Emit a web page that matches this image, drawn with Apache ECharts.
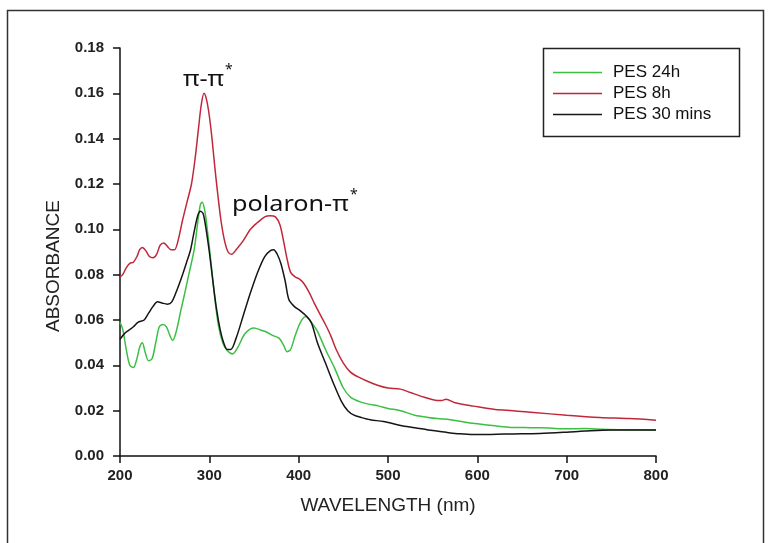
<!DOCTYPE html>
<html>
<head>
<meta charset="utf-8">
<script src="https://cdn.jsdelivr.net/npm/echarts@6/dist/echarts.min.js"></script>
<style>
html,body{margin:0;padding:0;background:#fff;}
#chart{width:777px;height:543px;}
</style>
</head>
<body>
<div id="chart"></div>
<script>
// ---- Data ----
const seriesNames = ['PES 24h', 'PES 8h', 'PES 30 mins'];
const xTicks = [200, 300, 400, 500, 600, 700, 800];
const yTicks = [0, 0.02, 0.04, 0.06, 0.08, 0.10, 0.12, 0.14, 0.16, 0.18];

const wl24 = [200,203,207,211,215,219,222,225,228,232,236,240,244,248,252,256,259,263,268,272,277,283,287,290,292,295,298,302,306,310,315,320,326,332,340,350,358,365,372,378,383,387,391,396,402,408,414,421,430,440,450,458,468,477,490,500,514,530,545,555,570,585,600,620,640,660,680,700,720,740,760,800];
const abs24 = [0.059,0.056,0.047,0.040,0.039,0.043,0.048,0.050,0.046,0.042,0.043,0.050,0.057,0.058,0.057,0.053,0.051,0.055,0.064,0.071,0.080,0.091,0.103,0.111,0.112,0.108,0.099,0.085,0.070,0.058,0.050,0.0465,0.045,0.048,0.054,0.0565,0.0555,0.0545,0.053,0.052,0.049,0.046,0.047,0.053,0.059,0.0615,0.059,0.055,0.047,0.039,0.030,0.026,0.024,0.023,0.022,0.021,0.020,0.018,0.017,0.0165,0.016,0.015,0.0142,0.0133,0.0126,0.0125,0.0123,0.012,0.0121,0.0118,0.0116,0.0115];

const wl8 = [200,203,207,211,215,219,222,225,229,233,237,241,245,249,253,257,261,265,270,275,280,284,288,291,294,297,300,303,306,309,313,317,321,325,330,338,346,354,362,368,374,379,383,387,391,396,401,406,412,418,424,430,436,442,450,458,466,477,490,500,514,525,540,555,560,565,575,596,620,640,663,700,737,770,800];
const abs8 = [0.079,0.080,0.083,0.085,0.0855,0.088,0.091,0.092,0.0905,0.088,0.0875,0.089,0.093,0.094,0.0925,0.091,0.091,0.095,0.104,0.112,0.120,0.131,0.145,0.155,0.160,0.157,0.150,0.140,0.128,0.117,0.104,0.095,0.090,0.089,0.091,0.095,0.100,0.103,0.1055,0.106,0.1055,0.102,0.095,0.087,0.081,0.079,0.078,0.076,0.072,0.067,0.0625,0.058,0.053,0.047,0.041,0.037,0.035,0.033,0.031,0.030,0.0295,0.028,0.026,0.0245,0.0245,0.025,0.0235,0.022,0.0205,0.020,0.0192,0.018,0.017,0.0165,0.0158];

const wl30 = [200,205,210,215,220,227,232,237,242,247,253,258,264,270,275,279,283,287,290,293,296,300,304,308,312,316,320,324,330,338,346,354,362,368,372,376,380,385,389,395,402,408,414,421,430,439,448,455,462,470,480,495,514,530,550,566,580,596,610,630,650,670,700,720,750,800];
const abs30 = [0.0515,0.054,0.0555,0.057,0.059,0.060,0.063,0.066,0.068,0.0675,0.067,0.068,0.0735,0.080,0.086,0.091,0.099,0.106,0.108,0.107,0.101,0.090,0.077,0.065,0.056,0.050,0.047,0.047,0.052,0.062,0.072,0.081,0.088,0.0905,0.091,0.089,0.085,0.077,0.069,0.066,0.064,0.062,0.059,0.050,0.041,0.032,0.024,0.020,0.018,0.017,0.016,0.0152,0.0135,0.0125,0.0112,0.0104,0.0098,0.0095,0.0095,0.0097,0.0098,0.0099,0.0105,0.011,0.0115,0.0115];

const colors = {green: '#3cbf45', red: '#c0283a', black: '#151515'};

function zip(xs, ys) { return xs.map((x, i) => [x, ys[i]]); }

const font = 'Arial, "Liberation Sans", sans-serif';
const chart = echarts.init(document.getElementById('chart'), null, {renderer: 'canvas'});

const option = {
  backgroundColor: '#ffffff',
  animation: false,
  grid: {left: 120, right: 121, top: 48, bottom: 87, containLabel: false},
  xAxis: {
    type: 'value', min: 200, max: 800, interval: 100,
    name: 'WAVELENGTH (nm)', nameLocation: 'middle', nameGap: 40,
    nameTextStyle: {fontFamily: font, fontSize: 19, color: '#222'},
    axisLine: {show: true, lineStyle: {color: '#111', width: 1.5}},
    axisTick: {show: true, inside: false, length: 7, lineStyle: {color: '#111', width: 1.5}},
    axisLabel: {margin: 12, fontFamily: font, fontSize: 15, fontWeight: 'bold', color: '#222'},
    splitLine: {show: false}
  },
  yAxis: {
    type: 'value', min: 0, max: 0.18, interval: 0.02,
    name: 'ABSORBANCE', nameLocation: 'middle', nameGap: 57,
    nameTextStyle: {fontFamily: font, fontSize: 19, color: '#222', padding: [0, 28, 0, 0]},
    axisLine: {show: true, lineStyle: {color: '#111', width: 1.5}},
    axisTick: {show: true, inside: false, length: 7, lineStyle: {color: '#111', width: 1.5}},
    axisLabel: {margin: 16, fontFamily: font, fontSize: 15, fontWeight: 'bold', color: '#222',
      formatter: v => v.toFixed(2)},
    splitLine: {show: false}
  },
  legend: {
    data: seriesNames,
    orient: 'vertical',
    left: 553, top: 64,
    itemWidth: 49, itemHeight: 14, itemGap: 4,
    padding: 0,
    textStyle: {fontFamily: font, fontSize: 17, color: '#111', padding: [0, 0, 0, 6]},
    icon: 'path://M0,6 L49,6 L49,7.5 L0,7.5 Z'
  },
  series: [
    {name: 'PES 24h', type: 'line', data: zip(wl24, abs24), smooth: 0.3, symbol: 'none',
      lineStyle: {color: colors.green, width: 1.5}, itemStyle: {color: colors.green}, z: 2},
    {name: 'PES 30 mins', type: 'line', data: zip(wl30, abs30), smooth: 0.3, symbol: 'none',
      lineStyle: {color: colors.black, width: 1.5}, itemStyle: {color: colors.black}, z: 3},
    {name: 'PES 8h', type: 'line', data: zip(wl8, abs8), smooth: 0.3, symbol: 'none',
      lineStyle: {color: colors.red, width: 1.5}, itemStyle: {color: colors.red}, z: 4}
  ],
  graphic: [
    {type: 'rect', silent: true, shape: {x: 7.5, y: 10.5, width: 756, height: 560},
      style: {fill: 'none', stroke: '#333', lineWidth: 1.5}},
    {type: 'rect', silent: true, shape: {x: 543.5, y: 48.5, width: 196, height: 88},
      style: {fill: 'none', stroke: '#222', lineWidth: 1.5}},
    {type: 'text', silent: true, x: 183, y: 80, scaleX: 1.2,
      style: {text: 'π-π', font: '21px "Noto Sans", sans-serif', fill: '#111', textAlign: 'left', textVerticalAlign: 'middle'}},
    {type: 'text', silent: true, x: 225, y: 70,
      style: {text: '*', font: '14px "Noto Sans", sans-serif', fill: '#111', textAlign: 'left', textVerticalAlign: 'middle'}},
    {type: 'text', silent: true, x: 232, y: 205, scaleX: 1.2,
      style: {text: 'polaron-π', font: '21px "Noto Sans", sans-serif', fill: '#111', textAlign: 'left', textVerticalAlign: 'middle'}},
    {type: 'text', silent: true, x: 350, y: 195,
      style: {text: '*', font: '14px "Noto Sans", sans-serif', fill: '#111', textAlign: 'left', textVerticalAlign: 'middle'}}
  ]
};
chart.setOption(option);
</script>
</body>
</html>
